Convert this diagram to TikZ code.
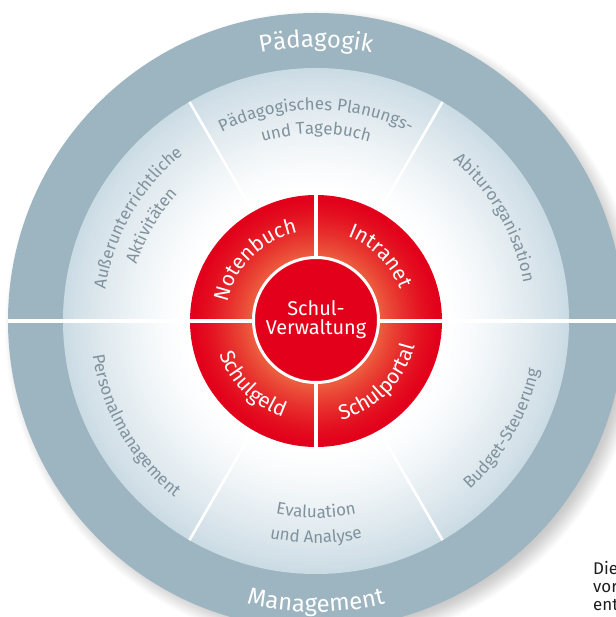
\documentclass[tikz,border=0pt]{standalone}
\usepackage{fontspec}
\setmainfont{Fira Sans}
\usetikzlibrary{decorations.text}
\definecolor{ringgrey}{RGB}{157,181,192}
\definecolor{lightouter}{RGB}{203,219,228}
\definecolor{labelgrey}{RGB}{128,146,157}
\definecolor{reddark}{RGB}{226,0,26}
\definecolor{redlight}{RGB}{236,92,62}
\definecolor{pagetext}{RGB}{30,30,30}
\newcommand{\arclabel}[6]{%
  \path[decorate, decoration={text along path, text align=center,
    text={|\fontsize{#4}{#4}\selectfont\color{#5}|#6}}]
    (#2:#1) arc[start angle=#2, end angle=#3, radius=#1];}
\tikzset{
  sepline/.style={draw=white, line width=3.2bp},
  sectorline/.style={draw=white, line width=2.6bp},
  pagefont/.style={font=\fontsize{17}{17}\selectfont, text=pagetext, inner sep=0pt, anchor=base west},
}
\begin{document}
\begin{tikzpicture}[x=1bp, y=1bp]
\useasboundingbox (-316,-296) rectangle (300,321);
% soft shadow to the lower right
\foreach \k in {0,...,22}{
  \fill[black, opacity=0.012] (7,-7) circle ({296+\k});
}
% outer grey ring
\fill[ringgrey] (0,0) circle (308);
% light zone with radial gradient
\foreach \i in {0,...,60}{
  \pgfmathsetmacro\rr{253-2*\i}
  \pgfmathsetmacro\pp{100*((\rr-131)/122)^1.3}
  \fill[lightouter!\pp!white] (0,0) circle (\rr);
}
% white halo round red ring
\fill[white] (0,0) circle (131);
% red ring with gradient
\foreach \i in {0,...,30}{
  \pgfmathsetmacro\rr{126-2*\i}
  \pgfmathsetmacro\pp{100*((126-\rr)/60)^1.4}
  \fill[redlight!\pp!reddark] (0,0) circle (\rr);
}
% separating lines
\coordinate (lft) at (-308,0);
\coordinate (rgt) at (320,0);
\draw[sepline] (lft) -- (rgt);
\draw[sepline] (0,-128) -- (0,128);
\foreach \a in {60,120,240,300}{
  \draw[sectorline] (\a:129) -- (\a:253);
}
% centre
\node[circle, fill=reddark, draw=white, line width=3bp, minimum size=125bp,
  inner sep=0pt, align=center, text=white,
  font=\fontsize{20}{19}\selectfont] (centre) at (0,1) {Schul-\\Verwaltung};
% outer ring labels
\arclabel{274}{170}{10}{24}{white}{Pädagogik}
\arclabel{291}{190}{350}{24}{white}{Management}
% light zone labels
\arclabel{211}{70}{-10}{17}{labelgrey}{Abiturorganisation}
\arclabel{211}{130}{50}{17}{labelgrey}{Pädagogisches Planungs-}
\arclabel{187}{130}{50}{17}{labelgrey}{und Tagebuch}
\arclabel{213}{190}{110}{17}{labelgrey}{Außerunterrichtliche}
\arclabel{188}{190}{110}{17}{labelgrey}{Aktivitäten}
\arclabel{226}{170}{250}{17}{labelgrey}{Personalmanagement}
\arclabel{197}{230}{310}{17}{labelgrey}{Evaluation}
\arclabel{222}{230}{310}{17}{labelgrey}{und Analyse}
\arclabel{228}{290}{370}{17}{labelgrey}{Budget-Steuerung}
% red ring labels
\arclabel{90}{180}{90}{21}{white}{Notenbuch}
\arclabel{90}{90}{0}{21}{white}{Intranet}
\arclabel{102}{180}{270}{21}{white}{Schulgeld}
\arclabel{102}{270}{360}{21}{white}{Schulportal}
% cut-off page text
\node[pagefont] (die) at (277,-253) {Die};
\node[pagefont] (vor) at (277,-271) {vor};
\node[pagefont] (ent) at (277,-289) {ent};
\end{tikzpicture}
\end{document}
